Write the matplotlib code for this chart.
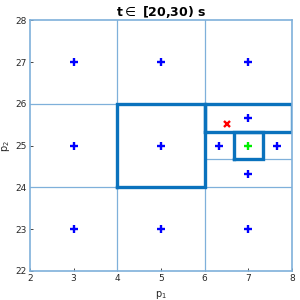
import matplotlib
matplotlib.use('Agg')
import matplotlib.pyplot as plt

# cell centres (blue), current cell (green), measured point (red)
cx = [3, 5, 7, 3, 5, 3, 5, 7, 7, 6.33, 7.67, 7]
cy = [27, 27, 27, 25, 25, 23, 23, 23, 25.67, 25, 25, 24.33]
gx = [7]
gy = [25]
rx = [6.52]
ry = [25.51]

# thin cell boundaries (x0, y0, x1, y1)
thin = [
    (4, 22, 4, 28), (6, 22, 6, 28),
    (2, 24, 8, 24), (2, 26, 8, 26),
    (6, 24.67, 8, 24.67),
]
# thick highlighted boxes (x0, y0, x1, y1)
boxes = [
    (4, 24, 6, 26),
    (6, 25.33, 8, 26),
    (6.67, 24.67, 7.33, 25.33),
]

thin_col = '#7fb0da'
thick_col = '#0a72bd'

fig = plt.figure(figsize=(3, 3), dpi=100)
ax = fig.add_axes([0.1, 0.097, 0.873, 0.835])

for x0, y0, x1, y1 in thin:
    ax.plot([x0, x1], [y0, y1], color=thin_col, lw=0.9)
for x0, y0, x1, y1 in boxes:
    ax.plot([x0, x1, x1, x0, x0], [y0, y0, y1, y1, y0], color=thick_col, lw=2.4,
            solid_joinstyle='miter')

ax.plot(cx, cy, '+', color='#0000ff', ms=5.5, mew=1.7, ls='none')
ax.plot(gx, gy, '+', color='#00ee00', ms=5.5, mew=1.7, ls='none')
ax.plot(rx, ry, 'x', color='#ff0000', ms=4, mew=1.7, ls='none')

ax.set_xlim(2, 8)
ax.set_ylim(22, 28)
ax.set_xticks(range(2, 9))
ax.set_yticks(range(22, 29))
for s in ax.spines.values():
    s.set_color(thin_col)
    s.set_linewidth(1.2)
ax.tick_params(direction='in', length=2, width=0.6, color='#262626',
               labelsize=6.5, labelcolor='#262626', pad=2.5)

ax.set_xlabel('p$_1$', fontsize=7, color='#262626', labelpad=4)
ax.set_ylabel('p$_2$', fontsize=7, color='#262626', labelpad=2)
ax.set_title('t$\\in$ [20,30) s', fontsize=9, fontweight='bold', pad=3)

fig.savefig('out.png', dpi=100)
